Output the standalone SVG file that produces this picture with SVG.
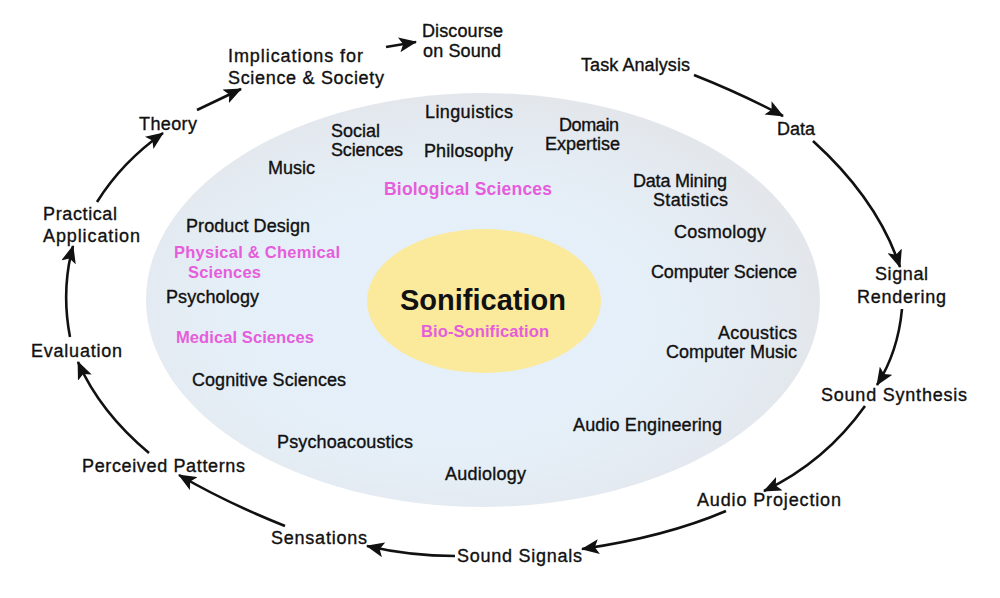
<svg xmlns="http://www.w3.org/2000/svg" width="1000" height="598" viewBox="0 0 1000 598">
<style>
text{font-family:"Liberation Sans",Arial,Helvetica,sans-serif;font-size:18px;fill:#111;stroke:#111;stroke-width:0.35px;lengthAdjust:spacing}
.pk{fill:#e65ddc;stroke:none;font-weight:bold;font-size:16.5px}
.conn path{fill:none;stroke:#111;stroke-width:2.6;marker-end:url(#ah)}
</style>
<defs>
<radialGradient id="bg" cx="45%" cy="55%" r="55%">
<stop offset="0" stop-color="#e4f0fb"/>
<stop offset="0.6" stop-color="#e5eff8"/>
<stop offset="1" stop-color="#e3e7ec"/>
</radialGradient>
<marker id="ah" markerUnits="userSpaceOnUse" markerWidth="19" markerHeight="15" refX="17" refY="7.5" orient="auto">
<path d="M0,0 L18,7.5 L0,15 L4,7.5 z" fill="#111"/>
</marker>
</defs>
<rect width="1000" height="598" fill="#fff"/>
<g id="field">
<ellipse cx="483" cy="300" rx="337" ry="207" fill="url(#bg)"/>
</g>
<g id="core">
<ellipse cx="484" cy="301" rx="117" ry="72" fill="#fbe99c"/>
<text x="400" y="310" textLength="166" lengthAdjust="spacing" style="font-size:29px;font-weight:bold;stroke:none">Sonification</text>
<text x="421" y="337" textLength="128" lengthAdjust="spacing" class="pk">Bio-Sonification</text>
</g>
<g id="disciplines">
<text x="425" y="118" textLength="88" lengthAdjust="spacing">Linguistics</text>
<text x="424" y="157" textLength="89" lengthAdjust="spacing">Philosophy</text>
<text x="331" y="137" textLength="49" lengthAdjust="spacing">Social</text>
<text x="331" y="156" textLength="72" lengthAdjust="spacing">Sciences</text>
<text x="559" y="131" textLength="60" lengthAdjust="spacing">Domain</text>
<text x="545" y="150" textLength="75" lengthAdjust="spacing">Expertise</text>
<text x="268" y="174" textLength="47" lengthAdjust="spacing">Music</text>
<text x="384" y="195" textLength="168" lengthAdjust="spacing" class="pk" style="font-size:17.5px">Biological Sciences</text>
<text x="633" y="187" textLength="94" lengthAdjust="spacing">Data Mining</text>
<text x="653" y="206" textLength="75" lengthAdjust="spacing">Statistics</text>
<text x="674" y="238" textLength="92" lengthAdjust="spacing">Cosmology</text>
<text x="651" y="278" textLength="146" lengthAdjust="spacing">Computer Science</text>
<text x="186" y="232" textLength="124" lengthAdjust="spacing">Product Design</text>
<text x="174" y="258" textLength="166" lengthAdjust="spacing" class="pk">Physical &amp; Chemical</text>
<text x="188" y="278" textLength="73" lengthAdjust="spacing" class="pk">Sciences</text>
<text x="166" y="303" textLength="93" lengthAdjust="spacing">Psychology</text>
<text x="176" y="343" textLength="138" lengthAdjust="spacing" class="pk">Medical Sciences</text>
<text x="192" y="386" textLength="154" lengthAdjust="spacing">Cognitive Sciences</text>
<text x="277" y="448" textLength="136" lengthAdjust="spacing">Psychoacoustics</text>
<text x="445" y="480" textLength="81" lengthAdjust="spacing">Audiology</text>
<text x="573" y="431" textLength="149" lengthAdjust="spacing">Audio Engineering</text>
<text x="718" y="339" textLength="79" lengthAdjust="spacing">Acoustics</text>
<text x="666" y="358" textLength="131" lengthAdjust="spacing">Computer Music</text>
</g>
<g id="n-discourse"><text x="422" y="37" textLength="81" lengthAdjust="spacing">Discourse</text><text x="423" y="57" textLength="78" lengthAdjust="spacing">on Sound</text></g>
<g id="n-implications"><text x="228" y="62" textLength="135" lengthAdjust="spacing">Implications for</text><text x="228" y="84" textLength="156" lengthAdjust="spacing">Science &amp; Society</text></g>
<g id="n-theory"><text x="139" y="130" textLength="58" lengthAdjust="spacing">Theory</text></g>
<g id="n-practical"><text x="43" y="220" textLength="74" lengthAdjust="spacing">Practical</text><text x="43" y="242" textLength="97" lengthAdjust="spacing">Application</text></g>
<g id="n-evaluation"><text x="31" y="357" textLength="91" lengthAdjust="spacing">Evaluation</text></g>
<g id="n-perceived"><text x="82" y="472" textLength="163" lengthAdjust="spacing">Perceived Patterns</text></g>
<g id="n-sensations"><text x="271" y="544" textLength="96" lengthAdjust="spacing">Sensations</text></g>
<g id="n-soundsignals"><text x="457" y="562" textLength="125" lengthAdjust="spacing">Sound Signals</text></g>
<g id="n-audioprojection"><text x="697" y="506" textLength="144" lengthAdjust="spacing">Audio Projection</text></g>
<g id="n-soundsynthesis"><text x="821" y="401" textLength="146" lengthAdjust="spacing">Sound Synthesis</text></g>
<g id="n-signal"><text x="875" y="280" textLength="53" lengthAdjust="spacing">Signal</text><text x="857" y="303" textLength="89" lengthAdjust="spacing">Rendering</text></g>
<g id="n-data"><text x="777" y="135" textLength="38" lengthAdjust="spacing">Data</text></g>
<g id="n-task"><text x="581" y="71" textLength="109" lengthAdjust="spacing">Task Analysis</text></g>
<g class="conn" id="connectors">
<path d="M694,75 Q742,94 783,116"/>
<path d="M813,141 Q878,200 900,267"/>
<path d="M902,309 Q898,352 877,385"/>
<path d="M865,406 Q825,462 764,491"/>
<path d="M726,511 Q665,537 582,549"/>
<path d="M455,556 Q410,556 367,546"/>
<path d="M285,526 Q225,502 179,475"/>
<path d="M149,453 Q100,412 78,362"/>
<path d="M70,337 Q61,290 73,246"/>
<path d="M97,202 Q122,162 163,133"/>
<path d="M197,110 L241,89"/>
<path d="M386,47 L416,42"/>
</g>
</svg>
